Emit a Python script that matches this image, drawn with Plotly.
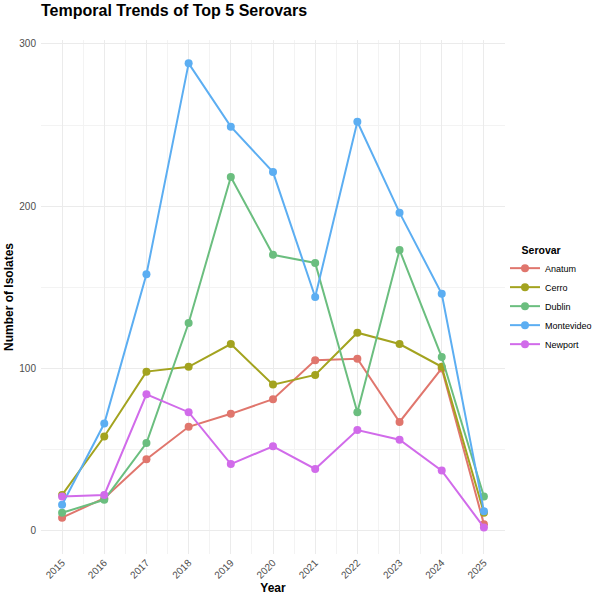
import plotly.graph_objects as go

# Data
years = [2015, 2016, 2017, 2018, 2019, 2020, 2021, 2022, 2023, 2024, 2025]
serovars = ['Anatum', 'Cerro', 'Dublin', 'Montevideo', 'Newport']

anatum = [8, 20, 44, 64, 72, 81, 105, 106, 67, 100, 4]
cerro = [22, 58, 98, 101, 115, 90, 96, 122, 115, 101, 11]
dublin = [11, 19, 54, 128, 218, 170, 165, 73, 173, 107, 21]
montevideo = [16, 66, 158, 288, 249, 221, 144, 252, 196, 146, 12]
newport = [21, 22, 84, 73, 41, 52, 38, 62, 56, 37, 2]

COLORS = {
    'Anatum': '#E0766D',
    'Cerro': '#A3A31F',
    'Dublin': '#6BBE7F',
    'Montevideo': '#5CAEF2',
    'Newport': '#D16BEA',
}

series = dict(zip(serovars, [anatum, cerro, dublin, montevideo, newport]))

fig = go.Figure()
for name in serovars:
    fig.add_trace(go.Scatter(
        x=years,
        y=series[name],
        mode='lines+markers',
        name=name,
        line=dict(color=COLORS[name], width=2),
        marker=dict(size=8, color=COLORS[name]),
    ))

grid = '#EBEBEB'
fig.update_layout(
    width=599,
    height=598,
    title=dict(
        text='<b>Temporal Trends of Top 5 Serovars</b>',
        x=41 / 599, xanchor='left',
        y=1 - 5 / 598, yanchor='top',
        font=dict(size=16, color='black', family='Liberation Sans, Arial'),
    ),
    font=dict(family='Liberation Sans, Arial', size=10, color='#4D4D4D'),
    plot_bgcolor='white',
    paper_bgcolor='white',
    margin=dict(l=41, r=94, t=40, b=44, autoexpand=False),
    xaxis=dict(
        range=[2014.5, 2025.5],
        tickmode='linear', tick0=2015, dtick=1,
        tickangle=-45,
        showgrid=True, gridcolor=grid, gridwidth=1.1,
        minor=dict(dtick=0.5, tick0=2014.5, showgrid=True, gridcolor='#F3F3F3', gridwidth=0.6),
        zeroline=False, showline=False, ticks='',
        tickfont=dict(size=10, color='#4D4D4D'),
        title=dict(text='<b>Year</b>', font=dict(size=12, color='black'), standoff=0),
        automargin=False,
    ),
    yaxis=dict(
        range=[-14.4, 302.4],
        tickmode='linear', tick0=0, dtick=100,
        showgrid=True, gridcolor=grid, gridwidth=1.1,
        minor=dict(dtick=50, tick0=0, showgrid=True, gridcolor='#F3F3F3', gridwidth=0.6),
        zeroline=False, showline=False, ticks='',
        ticklabelstandoff=4,
        tickfont=dict(size=10, color='#4D4D4D'),
        title=dict(text='<b>Number of Isolates</b>', font=dict(size=12, color='black'), standoff=3),
        automargin=False,
    ),
    legend=dict(
        title=dict(text='&nbsp;&nbsp;&nbsp;&nbsp;&nbsp;<b>Serovar</b>',
                   font=dict(size=10.5, color='black'), side='top'),
        x=1.0, xanchor='left',
        y=(554 - 240) / (554 - 40), yanchor='top',
        font=dict(size=9, color='black'),
        bgcolor='rgba(0,0,0,0)',
        itemwidth=30,
    ),
)

# drop the default 8px body margin so the figure sits at the page origin
fig.write_html('out.html', config={'displayModeBar': False},
               post_script="document.body.style.margin='0';")
